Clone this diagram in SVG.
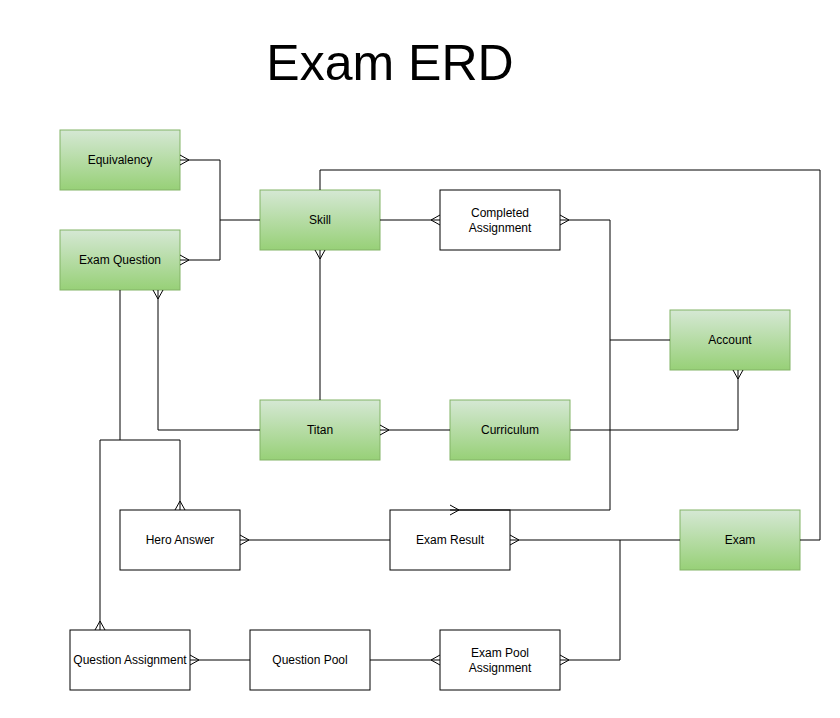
<svg xmlns="http://www.w3.org/2000/svg" width="840" height="718" viewBox="0 0 840 718">
<style>
.g{fill:url(#grn);stroke:#82b366;stroke-width:1}
.w{fill:#fff;stroke:#000;stroke-width:1}
.t{font-family:"Liberation Sans",Arial,sans-serif;font-size:12px;fill:#000;text-anchor:middle}
.e{fill:none;stroke:#000;stroke-width:1}
.m{marker-end:url(#many)}
.ms{marker-start:url(#many)}
</style>
<defs>
<linearGradient id="grn" x1="0" y1="0" x2="0" y2="1">
<stop offset="0" stop-color="#d5e8d4"/>
<stop offset="1" stop-color="#97d077"/>
</linearGradient>
<marker id="many" markerUnits="userSpaceOnUse" markerWidth="20" markerHeight="20" viewBox="0 0 20 20" refX="10" refY="10" orient="auto-start-reverse" overflow="visible">
<path d="M10,5 L1,10 L10,15" fill="none" stroke="#000" stroke-width="1"/>
</marker>
</defs>
<rect width="840" height="718" fill="#fff"/>
<text x="390" y="80" font-family="Liberation Sans,Arial,sans-serif" font-size="50" text-anchor="middle" fill="#000">Exam ERD</text>

<g id="equivalency"><rect class="g" x="60" y="130" width="120" height="60"/><text class="t" x="120" y="164">Equivalency</text></g>
<g id="exam-question"><rect class="g" x="60" y="230" width="120" height="60"/><text class="t" x="120" y="264">Exam Question</text></g>
<g id="skill"><rect class="g" x="260" y="190" width="120" height="60"/><text class="t" x="320" y="224">Skill</text></g>
<g id="completed-assignment"><rect class="w" x="440" y="190" width="120" height="60"/><text class="t" x="500" y="217">Completed</text><text class="t" x="500" y="232">Assignment</text></g>
<g id="account"><rect class="g" x="670" y="310" width="120" height="60"/><text class="t" x="730" y="344">Account</text></g>
<g id="titan"><rect class="g" x="260" y="400" width="120" height="60"/><text class="t" x="320" y="434">Titan</text></g>
<g id="curriculum"><rect class="g" x="450" y="400" width="120" height="60"/><text class="t" x="510" y="434">Curriculum</text></g>
<g id="hero-answer"><rect class="w" x="120" y="510" width="120" height="60"/><text class="t" x="180" y="544">Hero Answer</text></g>
<g id="exam-result"><rect class="w" x="390" y="510" width="120" height="60"/><text class="t" x="450" y="544">Exam Result</text></g>
<g id="exam"><rect class="g" x="680" y="510" width="120" height="60"/><text class="t" x="740" y="544">Exam</text></g>
<g id="question-assignment"><rect class="w" x="70" y="630" width="120" height="60"/><text class="t" x="130" y="664">Question Assignment</text></g>
<g id="question-pool"><rect class="w" x="250" y="630" width="120" height="60"/><text class="t" x="310" y="664">Question Pool</text></g>
<g id="exam-pool-assignment"><rect class="w" x="440" y="630" width="120" height="60"/><text class="t" x="500" y="657">Exam Pool</text><text class="t" x="500" y="672">Assignment</text></g>

<g id="connectors">
<path class="e m" d="M260,220 H220 V160 H180"/>
<path class="e m" d="M220,220 V260 H180"/>
<path class="e m" d="M380,220 H440"/>
<path class="e" d="M320,190 V170 H820 V540 H800"/>
<path class="e m ms" d="M560,220 H610 V510 H450"/>
<path class="e" d="M670,340 H610"/>
<path class="e m" d="M320,400 V250"/>
<path class="e m" d="M260,430 H158 V290"/>
<path class="e m" d="M450,430 H380"/>
<path class="e m" d="M570,430 H738 V370"/>
<path class="e m" d="M120,290 V440 H180 V510"/>
<path class="e m" d="M120,440 H100 V630"/>
<path class="e m" d="M390,540 H240"/>
<path class="e m" d="M680,540 H510"/>
<path class="e m" d="M620,540 V660 H560"/>
<path class="e m" d="M250,660 H190"/>
<path class="e m" d="M370,660 H440"/>
</g>
</svg>
